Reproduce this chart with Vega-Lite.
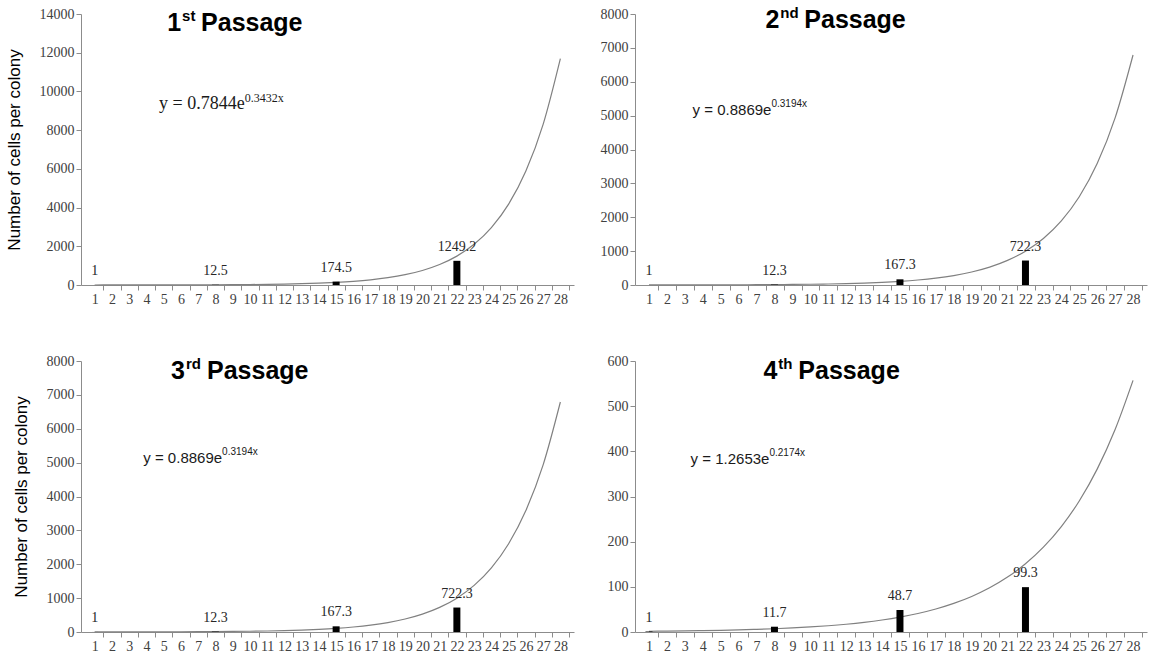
{
  "$schema": "https://vega.github.io/schema/vega-lite/v6.json",
  "background": "white",
  "padding": 5,
  "config": {
    "view": {"stroke": null},
    "axis": {"labelFont": "Liberation Serif", "labelFontSize": 14, "labelColor": "#404040", "domainColor": "#8c8c8c", "tickColor": "#8c8c8c", "tickSize": 5, "labelPadding": 2, "grid": false},
    "axisY": {"titleFont": "Liberation Sans", "titleFontSize": 17, "titleFontWeight": "normal", "titleColor": "#000000", "titlePadding": 16}
  },
  "datasets": {
    "bars": [
      {"panel": 1, "day": 1, "cells": 1}, {"panel": 1, "day": 8, "cells": 12.5}, {"panel": 1, "day": 15, "cells": 174.5}, {"panel": 1, "day": 22, "cells": 1249.2},
      {"panel": 2, "day": 1, "cells": 1}, {"panel": 2, "day": 8, "cells": 12.3}, {"panel": 2, "day": 15, "cells": 167.3}, {"panel": 2, "day": 22, "cells": 722.3},
      {"panel": 3, "day": 1, "cells": 1}, {"panel": 3, "day": 8, "cells": 12.3}, {"panel": 3, "day": 15, "cells": 167.3}, {"panel": 3, "day": 22, "cells": 722.3},
      {"panel": 4, "day": 1, "cells": 1}, {"panel": 4, "day": 8, "cells": 11.7}, {"panel": 4, "day": 15, "cells": 48.7}, {"panel": 4, "day": 22, "cells": 99.3}
    ],
    "curves": [
      {"panel": 1, "day": 1, "cells": 1.106}, {"panel": 1, "day": 2, "cells": 1.558}, {"panel": 1, "day": 3, "cells": 2.196}, {"panel": 1, "day": 4, "cells": 3.096},
      {"panel": 1, "day": 5, "cells": 4.363}, {"panel": 1, "day": 6, "cells": 6.15}, {"panel": 1, "day": 7, "cells": 8.668}, {"panel": 1, "day": 8, "cells": 12.22},
      {"panel": 1, "day": 9, "cells": 17.22}, {"panel": 1, "day": 10, "cells": 24.27}, {"panel": 1, "day": 11, "cells": 34.21}, {"panel": 1, "day": 12, "cells": 48.21},
      {"panel": 1, "day": 13, "cells": 67.95}, {"panel": 1, "day": 14, "cells": 95.78}, {"panel": 1, "day": 15, "cells": 135.0}, {"panel": 1, "day": 16, "cells": 190.3},
      {"panel": 1, "day": 17, "cells": 268.2}, {"panel": 1, "day": 18, "cells": 378.0}, {"panel": 1, "day": 19, "cells": 532.7}, {"panel": 1, "day": 20, "cells": 750.9},
      {"panel": 1, "day": 21, "cells": 1058}, {"panel": 1, "day": 22, "cells": 1492}, {"panel": 1, "day": 23, "cells": 2102}, {"panel": 1, "day": 24, "cells": 2963},
      {"panel": 1, "day": 25, "cells": 4176}, {"panel": 1, "day": 26, "cells": 5886}, {"panel": 1, "day": 27, "cells": 8297}, {"panel": 1, "day": 28, "cells": 11694},
      {"panel": 2, "day": 1, "cells": 1.221}, {"panel": 2, "day": 2, "cells": 1.68}, {"panel": 2, "day": 3, "cells": 2.312}, {"panel": 2, "day": 4, "cells": 3.182},
      {"panel": 2, "day": 5, "cells": 4.38}, {"panel": 2, "day": 6, "cells": 6.028}, {"panel": 2, "day": 7, "cells": 8.296}, {"panel": 2, "day": 8, "cells": 11.42},
      {"panel": 2, "day": 9, "cells": 15.71}, {"panel": 2, "day": 10, "cells": 21.63}, {"panel": 2, "day": 11, "cells": 29.77}, {"panel": 2, "day": 12, "cells": 40.97},
      {"panel": 2, "day": 13, "cells": 56.38}, {"panel": 2, "day": 14, "cells": 77.6}, {"panel": 2, "day": 15, "cells": 106.8}, {"panel": 2, "day": 16, "cells": 147.0},
      {"panel": 2, "day": 17, "cells": 202.3}, {"panel": 2, "day": 18, "cells": 278.4}, {"panel": 2, "day": 19, "cells": 383.2}, {"panel": 2, "day": 20, "cells": 527.4},
      {"panel": 2, "day": 21, "cells": 725.9}, {"panel": 2, "day": 22, "cells": 999.0}, {"panel": 2, "day": 23, "cells": 1375}, {"panel": 2, "day": 24, "cells": 1892},
      {"panel": 2, "day": 25, "cells": 2604}, {"panel": 2, "day": 26, "cells": 3584}, {"panel": 2, "day": 27, "cells": 4933}, {"panel": 2, "day": 28, "cells": 6790},
      {"panel": 3, "day": 1, "cells": 1.221}, {"panel": 3, "day": 2, "cells": 1.68}, {"panel": 3, "day": 3, "cells": 2.312}, {"panel": 3, "day": 4, "cells": 3.182},
      {"panel": 3, "day": 5, "cells": 4.38}, {"panel": 3, "day": 6, "cells": 6.028}, {"panel": 3, "day": 7, "cells": 8.296}, {"panel": 3, "day": 8, "cells": 11.42},
      {"panel": 3, "day": 9, "cells": 15.71}, {"panel": 3, "day": 10, "cells": 21.63}, {"panel": 3, "day": 11, "cells": 29.77}, {"panel": 3, "day": 12, "cells": 40.97},
      {"panel": 3, "day": 13, "cells": 56.38}, {"panel": 3, "day": 14, "cells": 77.6}, {"panel": 3, "day": 15, "cells": 106.8}, {"panel": 3, "day": 16, "cells": 147.0},
      {"panel": 3, "day": 17, "cells": 202.3}, {"panel": 3, "day": 18, "cells": 278.4}, {"panel": 3, "day": 19, "cells": 383.2}, {"panel": 3, "day": 20, "cells": 527.4},
      {"panel": 3, "day": 21, "cells": 725.9}, {"panel": 3, "day": 22, "cells": 999.0}, {"panel": 3, "day": 23, "cells": 1375}, {"panel": 3, "day": 24, "cells": 1892},
      {"panel": 3, "day": 25, "cells": 2604}, {"panel": 3, "day": 26, "cells": 3584}, {"panel": 3, "day": 27, "cells": 4933}, {"panel": 3, "day": 28, "cells": 6790},
      {"panel": 4, "day": 1, "cells": 1.573}, {"panel": 4, "day": 2, "cells": 1.955}, {"panel": 4, "day": 3, "cells": 2.429}, {"panel": 4, "day": 4, "cells": 3.019},
      {"panel": 4, "day": 5, "cells": 3.752}, {"panel": 4, "day": 6, "cells": 4.663}, {"panel": 4, "day": 7, "cells": 5.796}, {"panel": 4, "day": 8, "cells": 7.203},
      {"panel": 4, "day": 9, "cells": 8.953}, {"panel": 4, "day": 10, "cells": 11.13}, {"panel": 4, "day": 11, "cells": 13.83}, {"panel": 4, "day": 12, "cells": 17.19},
      {"panel": 4, "day": 13, "cells": 21.36}, {"panel": 4, "day": 14, "cells": 26.55}, {"panel": 4, "day": 15, "cells": 32.99}, {"panel": 4, "day": 16, "cells": 41.01},
      {"panel": 4, "day": 17, "cells": 50.96}, {"panel": 4, "day": 18, "cells": 63.34}, {"panel": 4, "day": 19, "cells": 78.72}, {"panel": 4, "day": 20, "cells": 97.84},
      {"panel": 4, "day": 21, "cells": 121.6}, {"panel": 4, "day": 22, "cells": 151.1}, {"panel": 4, "day": 23, "cells": 187.8}, {"panel": 4, "day": 24, "cells": 233.4},
      {"panel": 4, "day": 25, "cells": 290.1}, {"panel": 4, "day": 26, "cells": 360.6}, {"panel": 4, "day": 27, "cells": 448.2}, {"panel": 4, "day": 28, "cells": 557.0}
    ]
  },
  "columns": 2,
  "spacing": {"row": 48, "column": 26},
  "concat": [
    {
      "width": 493, "height": 271,
      "resolve": {"axis": {"x": "independent", "y": "independent"}},
      "layer": [
        {
          "encoding": {
            "x": {"field": "day", "type": "quantitative", "scale": {"domain": [0.5, 28.5], "nice": false, "zero": false},
                  "axis": {"orient": "bottom", "title": null, "values": [1,2,3,4,5,6,7,8,9,10,11,12,13,14,15,16,17,18,19,20,21,22,23,24,25,26,27,28], "tickOffset": 8.8, "labelOffset": -8.8, "labelOverlap": false, "labelFlush": false}},
            "y": {"field": "cells", "type": "quantitative", "scale": {"domain": [0, 14000], "nice": false},
                  "axis": {"orient": "left", "title": "Number of cells per colony", "values": [0,2000,4000,6000,8000,10000,12000,14000], "format": "d"}}
          },
          "layer": [
            {"data": {"name": "curves"}, "transform": [{"filter": "datum.panel == 1"}],
             "mark": {"type": "line", "interpolate": "monotone", "color": "#808080", "strokeWidth": 1.2}},
            {"data": {"name": "bars"}, "transform": [{"filter": "datum.panel == 1"}],
             "mark": {"type": "bar", "color": "#000000", "width": 7}},
            {"data": {"name": "bars"}, "transform": [{"filter": "datum.panel == 1"}],
             "mark": {"type": "text", "font": "Liberation Serif", "fontSize": 14, "color": "#262626", "dy": -14},
             "encoding": {"text": {"field": "cells", "type": "quantitative", "format": ".1~f"}}}
          ]
        },
        {"data": {"values": [{}]}, "mark": {"type": "text", "text": "1", "font": "Liberation Sans", "fontWeight": "bold", "fontSize": 25, "align": "right", "baseline": "middle", "color": "#000000"},
         "encoding": {"x": {"datum": 6.01, "type": "quantitative", "axis": null}, "y": {"datum": 13535, "type": "quantitative", "axis": null}}},
        {"data": {"values": [{}]}, "mark": {"type": "text", "text": "st", "font": "Liberation Sans", "fontWeight": "bold", "fontSize": 15, "align": "left", "baseline": "middle", "dx": 1, "dy": -7, "color": "#000000"},
         "encoding": {"x": {"datum": 6.01, "type": "quantitative", "axis": null}, "y": {"datum": 13535, "type": "quantitative", "axis": null}}},
        {"data": {"values": [{}]}, "mark": {"type": "text", "text": "Passage", "font": "Liberation Sans", "fontWeight": "bold", "fontSize": 25, "align": "left", "baseline": "middle", "dx": 20, "color": "#000000"},
         "encoding": {"x": {"datum": 6.01, "type": "quantitative", "axis": null}, "y": {"datum": 13535, "type": "quantitative", "axis": null}}},
        {"data": {"values": [{}]}, "mark": {"type": "text", "text": "y = 0.7844e", "font": "Liberation Serif", "fontSize": 18, "align": "right", "baseline": "middle", "color": "#1a1a1a"},
         "encoding": {"x": {"datum": 9.7, "type": "quantitative", "axis": null}, "y": {"datum": 9350, "type": "quantitative", "axis": null}}},
        {"data": {"values": [{}]}, "mark": {"type": "text", "text": "0.3432x", "font": "Liberation Serif", "fontSize": 12, "align": "left", "baseline": "middle", "dy": -6, "color": "#1a1a1a"},
         "encoding": {"x": {"datum": 9.7, "type": "quantitative", "axis": null}, "y": {"datum": 9350, "type": "quantitative", "axis": null}}}
      ]
    },
    {
      "width": 512, "height": 271,
      "resolve": {"axis": {"x": "independent", "y": "independent"}},
      "layer": [
        {
          "encoding": {
            "x": {"field": "day", "type": "quantitative", "scale": {"domain": [0.5, 28.5], "nice": false, "zero": false},
                  "axis": {"orient": "bottom", "title": null, "values": [1,2,3,4,5,6,7,8,9,10,11,12,13,14,15,16,17,18,19,20,21,22,23,24,25,26,27,28], "tickOffset": 9.14, "labelOffset": -9.14, "labelOverlap": false, "labelFlush": false}},
            "y": {"field": "cells", "type": "quantitative", "scale": {"domain": [0, 8000], "nice": false},
                  "axis": {"orient": "left", "title": null, "values": [0,1000,2000,3000,4000,5000,6000,7000,8000], "format": "d"}}
          },
          "layer": [
            {"data": {"name": "curves"}, "transform": [{"filter": "datum.panel == 2"}],
             "mark": {"type": "line", "interpolate": "monotone", "color": "#808080", "strokeWidth": 1.2}},
            {"data": {"name": "bars"}, "transform": [{"filter": "datum.panel == 2"}],
             "mark": {"type": "bar", "color": "#000000", "width": 7}},
            {"data": {"name": "bars"}, "transform": [{"filter": "datum.panel == 2"}],
             "mark": {"type": "text", "font": "Liberation Serif", "fontSize": 14, "color": "#262626", "dy": -14},
             "encoding": {"text": {"field": "cells", "type": "quantitative", "format": ".1~f"}}}
          ]
        },
        {"data": {"values": [{}]}, "mark": {"type": "text", "text": "2", "font": "Liberation Sans", "fontWeight": "bold", "fontSize": 25, "align": "right", "baseline": "middle", "color": "#000000"},
         "encoding": {"x": {"datum": 8.27, "type": "quantitative", "axis": null}, "y": {"datum": 7823, "type": "quantitative", "axis": null}}},
        {"data": {"values": [{}]}, "mark": {"type": "text", "text": "nd", "font": "Liberation Sans", "fontWeight": "bold", "fontSize": 15, "align": "left", "baseline": "middle", "dx": 1, "dy": -7, "color": "#000000"},
         "encoding": {"x": {"datum": 8.27, "type": "quantitative", "axis": null}, "y": {"datum": 7823, "type": "quantitative", "axis": null}}},
        {"data": {"values": [{}]}, "mark": {"type": "text", "text": "Passage", "font": "Liberation Sans", "fontWeight": "bold", "fontSize": 25, "align": "left", "baseline": "middle", "dx": 25, "color": "#000000"},
         "encoding": {"x": {"datum": 8.27, "type": "quantitative", "axis": null}, "y": {"datum": 7823, "type": "quantitative", "axis": null}}},
        {"data": {"values": [{}]}, "mark": {"type": "text", "text": "y = 0.8869e", "font": "Liberation Sans", "fontSize": 15, "align": "right", "baseline": "middle", "color": "#1a1a1a"},
         "encoding": {"x": {"datum": 7.83, "type": "quantitative", "axis": null}, "y": {"datum": 5166, "type": "quantitative", "axis": null}}},
        {"data": {"values": [{}]}, "mark": {"type": "text", "text": "0.3194x", "font": "Liberation Sans", "fontSize": 10, "align": "left", "baseline": "middle", "dy": -6, "color": "#1a1a1a"},
         "encoding": {"x": {"datum": 7.83, "type": "quantitative", "axis": null}, "y": {"datum": 5166, "type": "quantitative", "axis": null}}}
      ]
    },
    {
      "width": 493, "height": 271,
      "resolve": {"axis": {"x": "independent", "y": "independent"}},
      "layer": [
        {
          "encoding": {
            "x": {"field": "day", "type": "quantitative", "scale": {"domain": [0.5, 28.5], "nice": false, "zero": false},
                  "axis": {"orient": "bottom", "title": null, "values": [1,2,3,4,5,6,7,8,9,10,11,12,13,14,15,16,17,18,19,20,21,22,23,24,25,26,27,28], "tickOffset": 8.8, "labelOffset": -8.8, "labelOverlap": false, "labelFlush": false}},
            "y": {"field": "cells", "type": "quantitative", "scale": {"domain": [0, 8000], "nice": false},
                  "axis": {"orient": "left", "title": "Number of cells per colony", "values": [0,1000,2000,3000,4000,5000,6000,7000,8000], "format": "d"}}
          },
          "layer": [
            {"data": {"name": "curves"}, "transform": [{"filter": "datum.panel == 3"}],
             "mark": {"type": "line", "interpolate": "monotone", "color": "#808080", "strokeWidth": 1.2}},
            {"data": {"name": "bars"}, "transform": [{"filter": "datum.panel == 3"}],
             "mark": {"type": "bar", "color": "#000000", "width": 7}},
            {"data": {"name": "bars"}, "transform": [{"filter": "datum.panel == 3"}],
             "mark": {"type": "text", "font": "Liberation Serif", "fontSize": 14, "color": "#262626", "dy": -14},
             "encoding": {"text": {"field": "cells", "type": "quantitative", "format": ".1~f"}}}
          ]
        },
        {"data": {"values": [{}]}, "mark": {"type": "text", "text": "3", "font": "Liberation Sans", "fontWeight": "bold", "fontSize": 25, "align": "right", "baseline": "middle", "color": "#000000"},
         "encoding": {"x": {"datum": 6.24, "type": "quantitative", "axis": null}, "y": {"datum": 7705, "type": "quantitative", "axis": null}}},
        {"data": {"values": [{}]}, "mark": {"type": "text", "text": "rd", "font": "Liberation Sans", "fontWeight": "bold", "fontSize": 15, "align": "left", "baseline": "middle", "dx": 1, "dy": -7, "color": "#000000"},
         "encoding": {"x": {"datum": 6.24, "type": "quantitative", "axis": null}, "y": {"datum": 7705, "type": "quantitative", "axis": null}}},
        {"data": {"values": [{}]}, "mark": {"type": "text", "text": "Passage", "font": "Liberation Sans", "fontWeight": "bold", "fontSize": 25, "align": "left", "baseline": "middle", "dx": 22, "color": "#000000"},
         "encoding": {"x": {"datum": 6.24, "type": "quantitative", "axis": null}, "y": {"datum": 7705, "type": "quantitative", "axis": null}}},
        {"data": {"values": [{}]}, "mark": {"type": "text", "text": "y = 0.8869e", "font": "Liberation Sans", "fontSize": 15, "align": "right", "baseline": "middle", "color": "#1a1a1a"},
         "encoding": {"x": {"datum": 8.39, "type": "quantitative", "axis": null}, "y": {"datum": 5137, "type": "quantitative", "axis": null}}},
        {"data": {"values": [{}]}, "mark": {"type": "text", "text": "0.3194x", "font": "Liberation Sans", "fontSize": 10, "align": "left", "baseline": "middle", "dy": -6, "color": "#1a1a1a"},
         "encoding": {"x": {"datum": 8.39, "type": "quantitative", "axis": null}, "y": {"datum": 5137, "type": "quantitative", "axis": null}}}
      ]
    },
    {
      "width": 512, "height": 271,
      "resolve": {"axis": {"x": "independent", "y": "independent"}},
      "layer": [
        {
          "encoding": {
            "x": {"field": "day", "type": "quantitative", "scale": {"domain": [0.5, 28.5], "nice": false, "zero": false},
                  "axis": {"orient": "bottom", "title": null, "values": [1,2,3,4,5,6,7,8,9,10,11,12,13,14,15,16,17,18,19,20,21,22,23,24,25,26,27,28], "tickOffset": 9.14, "labelOffset": -9.14, "labelOverlap": false, "labelFlush": false}},
            "y": {"field": "cells", "type": "quantitative", "scale": {"domain": [0, 600], "nice": false},
                  "axis": {"orient": "left", "title": null, "values": [0,100,200,300,400,500,600], "format": "d"}}
          },
          "layer": [
            {"data": {"name": "curves"}, "transform": [{"filter": "datum.panel == 4"}],
             "mark": {"type": "line", "interpolate": "monotone", "color": "#808080", "strokeWidth": 1.2}},
            {"data": {"name": "bars"}, "transform": [{"filter": "datum.panel == 4"}],
             "mark": {"type": "bar", "color": "#000000", "width": 7}},
            {"data": {"name": "bars"}, "transform": [{"filter": "datum.panel == 4"}],
             "mark": {"type": "text", "font": "Liberation Serif", "fontSize": 14, "color": "#262626", "dy": -14},
             "encoding": {"text": {"field": "cells", "type": "quantitative", "format": ".1~f"}}}
          ]
        },
        {"data": {"values": [{}]}, "mark": {"type": "text", "text": "4", "font": "Liberation Sans", "fontWeight": "bold", "fontSize": 25, "align": "right", "baseline": "middle", "color": "#000000"},
         "encoding": {"x": {"datum": 8.16, "type": "quantitative", "axis": null}, "y": {"datum": 578, "type": "quantitative", "axis": null}}},
        {"data": {"values": [{}]}, "mark": {"type": "text", "text": "th", "font": "Liberation Sans", "fontWeight": "bold", "fontSize": 15, "align": "left", "baseline": "middle", "dx": 1, "dy": -7, "color": "#000000"},
         "encoding": {"x": {"datum": 8.16, "type": "quantitative", "axis": null}, "y": {"datum": 578, "type": "quantitative", "axis": null}}},
        {"data": {"values": [{}]}, "mark": {"type": "text", "text": "Passage", "font": "Liberation Sans", "fontWeight": "bold", "fontSize": 25, "align": "left", "baseline": "middle", "dx": 21, "color": "#000000"},
         "encoding": {"x": {"datum": 8.16, "type": "quantitative", "axis": null}, "y": {"datum": 578, "type": "quantitative", "axis": null}}},
        {"data": {"values": [{}]}, "mark": {"type": "text", "text": "y = 1.2653e", "font": "Liberation Sans", "fontSize": 15, "align": "right", "baseline": "middle", "color": "#1a1a1a"},
         "encoding": {"x": {"datum": 7.72, "type": "quantitative", "axis": null}, "y": {"datum": 383, "type": "quantitative", "axis": null}}},
        {"data": {"values": [{}]}, "mark": {"type": "text", "text": "0.2174x", "font": "Liberation Sans", "fontSize": 10, "align": "left", "baseline": "middle", "dy": -6, "color": "#1a1a1a"},
         "encoding": {"x": {"datum": 7.72, "type": "quantitative", "axis": null}, "y": {"datum": 383, "type": "quantitative", "axis": null}}}
      ]
    }
  ]
}
